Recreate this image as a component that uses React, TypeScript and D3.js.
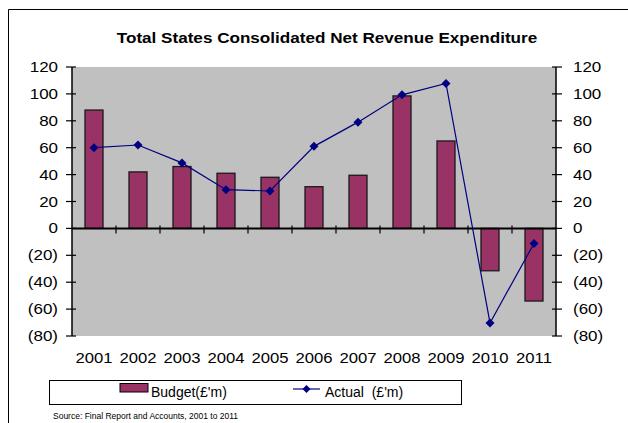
import React from "react";
import * as d3 from "d3";

const years = ["2001","2002","2003","2004","2005","2006","2007","2008","2009","2010","2011"];
const budget = [88, 42, 46, 41, 38, 31, 39.5, 98.5, 65, -31.5, -54];
const actual = [60, 62, 48.7, 28.8, 27.8, 61, 79, 99.3, 107.8, -70.3, -11.2];
const yTicks = [120, 100, 80, 60, 40, 20, 0, -20, -40, -60, -80];

const fmt = (v: number) => (v < 0 ? `(${Math.abs(v)})` : `${v}`);

function SText({ x, y, sx = 1.17, anchor = "start", size = 14.5, weight = "normal", children }: any) {
  return (
    <text transform={`translate(${x},${y}) scale(${sx},1)`} textAnchor={anchor} fontSize={size}
      fontWeight={weight} style={{ whiteSpace: "pre" }}>{children}</text>
  );
}

export default function App() {
  const W = 628, H = 423;
  const left = 72, right = 556, top = 67, bottom = 336;
  const x = d3.scaleBand<string>().domain(years).range([left, right]);
  const y = d3.scaleLinear().domain([-80, 120]).range([bottom, top]);
  const bw = 18;
  const line = d3.line<number>().x((_, i) => x(years[i])! + x.bandwidth() / 2).y(d => y(d));
  const font = "Arial, 'Liberation Sans', sans-serif";
  const diamond = (cx: number, cy: number, r = 4.5) =>
    `M${cx},${cy - r}L${cx + r},${cy}L${cx},${cy + r}L${cx - r},${cy}Z`;
  return (
    <svg width={W} height={H} style={{ position: "absolute", left: 0, top: 0 }} fontFamily={font}>
      <rect x={0} y={0} width={W} height={H} fill="#fff" />
      <path d={`M8.5,${H}V9.5H${W}`} fill="none" stroke="#000" strokeWidth={1} />
      <SText x={327} y={43} anchor="middle" weight="bold" sx={1.18}>Total States Consolidated Net Revenue Expenditure</SText>
      <rect x={left} y={top} width={right - left} height={bottom - top} fill="#c0c0c0" />
      {years.map((yr, i) => {
        const v = budget[i];
        const cx = x(yr)! + x.bandwidth() / 2;
        return (
          <rect key={yr} x={cx - bw / 2} y={Math.min(y(v), y(0))} width={bw}
            height={Math.abs(y(v) - y(0))} fill="#993366" stroke="#1a1a1a" strokeWidth={1.3} />
        );
      })}
      <line x1={left} x2={right} y1={y(0)} y2={y(0)} stroke="#000" strokeWidth={2} />
      {years.slice(1).map(yr => (
        <line key={yr} x1={x(yr)!} x2={x(yr)!} y1={y(0) - 3} y2={y(0) + 5} stroke="#000" strokeWidth={1.2} />
      ))}
      <line x1={left} x2={left} y1={top} y2={bottom} stroke="#000" strokeWidth={1.5} />
      <line x1={right} x2={right} y1={top} y2={bottom} stroke="#000" strokeWidth={1.5} />
      {yTicks.map(t => (
        <g key={t}>
          <line x1={left - 6} x2={left + 4} y1={y(t)} y2={y(t)} stroke="#000" strokeWidth={1.2} />
          <line x1={right - 4} x2={right + 6} y1={y(t)} y2={y(t)} stroke="#000" strokeWidth={1.2} />
          <SText x={58} y={y(t) + 5} anchor="end">{fmt(t)}</SText>
          <SText x={573} y={y(t) + 5}>{fmt(t)}</SText>
        </g>
      ))}
      {years.map(yr => (
        <SText key={yr} x={x(yr)! + x.bandwidth() / 2} y={362.5} anchor="middle" sx={1.15}>{yr}</SText>
      ))}
      <path d={line(actual)!} fill="none" stroke="#000080" strokeWidth={1.2} />
      {actual.map((v, i) => (
        <path key={i} d={diamond(x(years[i])! + x.bandwidth() / 2, y(v))} fill="#000080" />
      ))}
      <rect x={49.5} y={380.5} width={412} height={24} fill="#fff" stroke="#000" strokeWidth={1} />
      <rect x={120} y={383.5} width={28} height={8.5} fill="#993366" stroke="#000" strokeWidth={1} />
      <text x={151} y={397} fontSize={14}>Budget(£'m)</text>
      <line x1={293} x2={320} y1={389} y2={389} stroke="#000080" strokeWidth={1.2} />
      <path d={diamond(306.5, 389, 4)} fill="#000080" />
      <text x={325} y={397} fontSize={14} style={{ whiteSpace: "pre" }}>{"Actual  (£'m)"}</text>
      <text x={53} y={419} fontSize={8.5}>Source: Final Report and Accounts, 2001 to 2011</text>
    </svg>
  );
}
